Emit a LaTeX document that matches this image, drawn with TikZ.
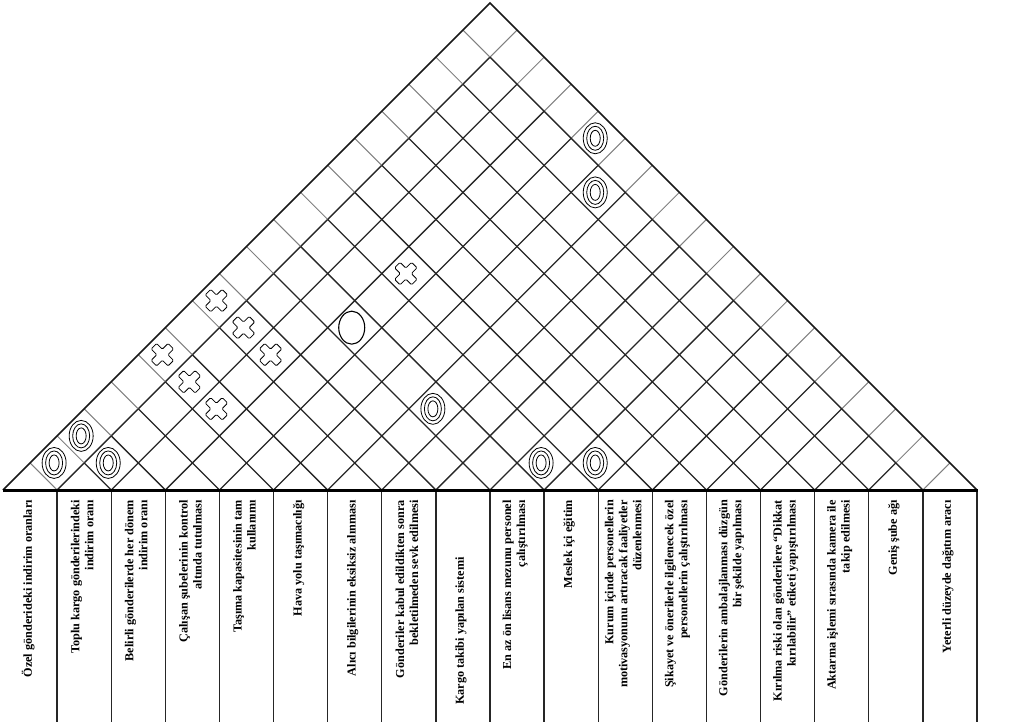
\documentclass[tikz,border=0pt]{standalone}
\usepackage{fontspec}
\setmainfont{Liberation Serif}
\begin{document}
\begin{tikzpicture}[x=1pt,y=-1pt,
  darkline/.style={line width=1.3pt, black!85},
  lightline/.style={line width=1pt, black!50},
  roofedge/.style={line width=1.5pt, black!90},
  colsep/.style={line width=1.4pt, black!85},
  baseline/.style={line width=3pt, black},
  lbl/.style={rotate=90, align=right, inner sep=0pt, anchor=east,
    font=\bfseries\fontsize{12.2}{14}\selectfont},
  symline/.style={line width=0.8pt, black},
  dblO/.pic={
    \draw[symline, fill=white] (0,0) ellipse [x radius=12, y radius=15.5];
    \draw[symline] (0,0) ellipse [x radius=8.5, y radius=12];
    \draw[symline] (0,0) ellipse [x radius=5, y radius=8];
  },
  bigO/.pic={
    \draw[line width=1.1pt, fill=white] (0,0) ellipse [x radius=13, y radius=16.5];
  },
  crossX/.pic={
    \draw[symline, fill=white, rounded corners=1.2pt, rotate=45]
      (3.9,12) -- (3.9,3.9) -- (12,3.9) -- (12,-3.9) -- (3.9,-3.9)
      -- (3.9,-12) -- (-3.9,-12) -- (-3.9,-3.9) -- (-12,-3.9)
      -- (-12,3.9) -- (-3.9,3.9) -- (-3.9,12) -- cycle;
  },
]
\useasboundingbox (0,0) rectangle (1012,722);
\def\W{54.111}
\def\BY{490}

% interior lattice of the roof
\foreach \k in {1,...,17} {
  \pgfmathsetmacro\bk{3+\W*\k}
  % rising lines: dark up to the last strip, light inside it
  \pgfmathsetmacro\xa{(\bk+3+\W*17)/2}
  \pgfmathsetmacro\xb{(\bk+977)/2}
  \pgfmathsetmacro\ya{\BY-(\xa-\bk)}
  \pgfmathsetmacro\yb{\BY-(\xb-\bk)}
  \draw[lightline] (\xa,\ya) -- (\xb,\yb);
  \draw[darkline] (\bk,\BY) -- (\xa,\ya);
  % falling lines: dark up to the first strip, light inside it
  \pgfmathsetmacro\xc{(\bk+3+\W)/2}
  \pgfmathsetmacro\xd{(\bk+3)/2}
  \pgfmathsetmacro\yc{\BY-(\bk-\xc)}
  \pgfmathsetmacro\yd{\BY-(\bk-\xd)}
  \draw[lightline] (\xc,\yc) -- (\xd,\yd);
  \draw[darkline] (\bk,\BY) -- (\xc,\yc);
}

% roof outline
\coordinate (roofL) at (3,\BY);
\coordinate (apex) at (490,3);
\coordinate (roofR) at (977,\BY);
\draw[roofedge] (roofL) -- (apex) -- (roofR);

% column separators and base line
\foreach \k in {1,...,18} {
  \pgfmathsetmacro\bk{3+\W*\k}
  \draw[colsep] (\bk,\BY) -- (\bk,722);
}
\coordinate (baseL) at (3,\BY);
\coordinate (baseR) at (978,\BY);
\draw[baseline] (baseL) -- (baseR);

% correlation symbols: (i, j) column pairs
\foreach \i/\j in {0/1,0/2,1/2,9/10,10/11,6/9,4/17,5/16} {
  \pgfmathsetmacro\cx{3+\W*(\i+\j+1)/2-3}
  \pgfmathsetmacro\cy{\BY-\W*(\j-\i)/2}
  \pic at (\cx,\cy) {dblO};
}
\foreach \i/\j in {3/9} {
  \pgfmathsetmacro\cx{3+\W*(\i+\j+1)/2-3}
  \pgfmathsetmacro\cy{\BY-\W*(\j-\i)/2}
  \pic at (\cx,\cy) {bigO};
}
\foreach \i/\j in {0/7,1/7,0/5,2/7,1/5,2/5,3/11} {
  \pgfmathsetmacro\cx{3+\W*(\i+\j+1)/2-3}
  \pgfmathsetmacro\cy{\BY-\W*(\j-\i)/2}
  \pic at (\cx,\cy) {crossX};
}

% column headings
\foreach \n/\txt in {
  1/{Özel gönderideki indirim oranları},
  2/{Toplu kargo gönderilerindeki\\indirim oranı},
  3/{Belirli gönderilerde her dönem\\indirim oranı},
  4/{Çalışan şubelerinin kontrol\\altında tutulması},
  5/{Taşıma kapasitesinin tam\\kullanımı},
  6/{Hava yolu taşımacılığı},
  7/{Alıcı bilgilerinin eksiksiz alınması},
  8/{Gönderiler kabul edildikten sonra\\bekletilmeden sevk edilmesi},
  10/{En az ön lisans mezunu personel\\çalıştırılması},
  11/{Meslek içi eğitim},
  12/{Kurum içinde personellerin\\motivasyonunu artıracak faaliyetler\\düzenlenmesi},
  13/{Şikayet ve önerilerle ilgilenecek özel\\personellerin çalıştırılması},
  14/{Gönderilerin ambalajlanması düzgün\\bir şekilde yapılması},
  15/{Kırılma riski olan gönderilere “Dikkat\\kırılabilir” etiketi yapıştırılması},
  16/{Aktarma işlemi sırasında kamera ile\\takip edilmesi},
  17/{Geniş şube ağı},
  18/{Yeterli düzeyde dağıtım aracı}} {
  \pgfmathsetmacro\cx{3+\W*(\n-0.5)-2}
  \node[lbl] (lbl\n) at (\cx,500) {\txt};
}
\pgfmathsetmacro\cx{3+\W*8.5-2}
\node[lbl, anchor=west] (lbl9) at (\cx,705) {Kargo takibi yapılan sistemi};
\end{tikzpicture}
\end{document}
